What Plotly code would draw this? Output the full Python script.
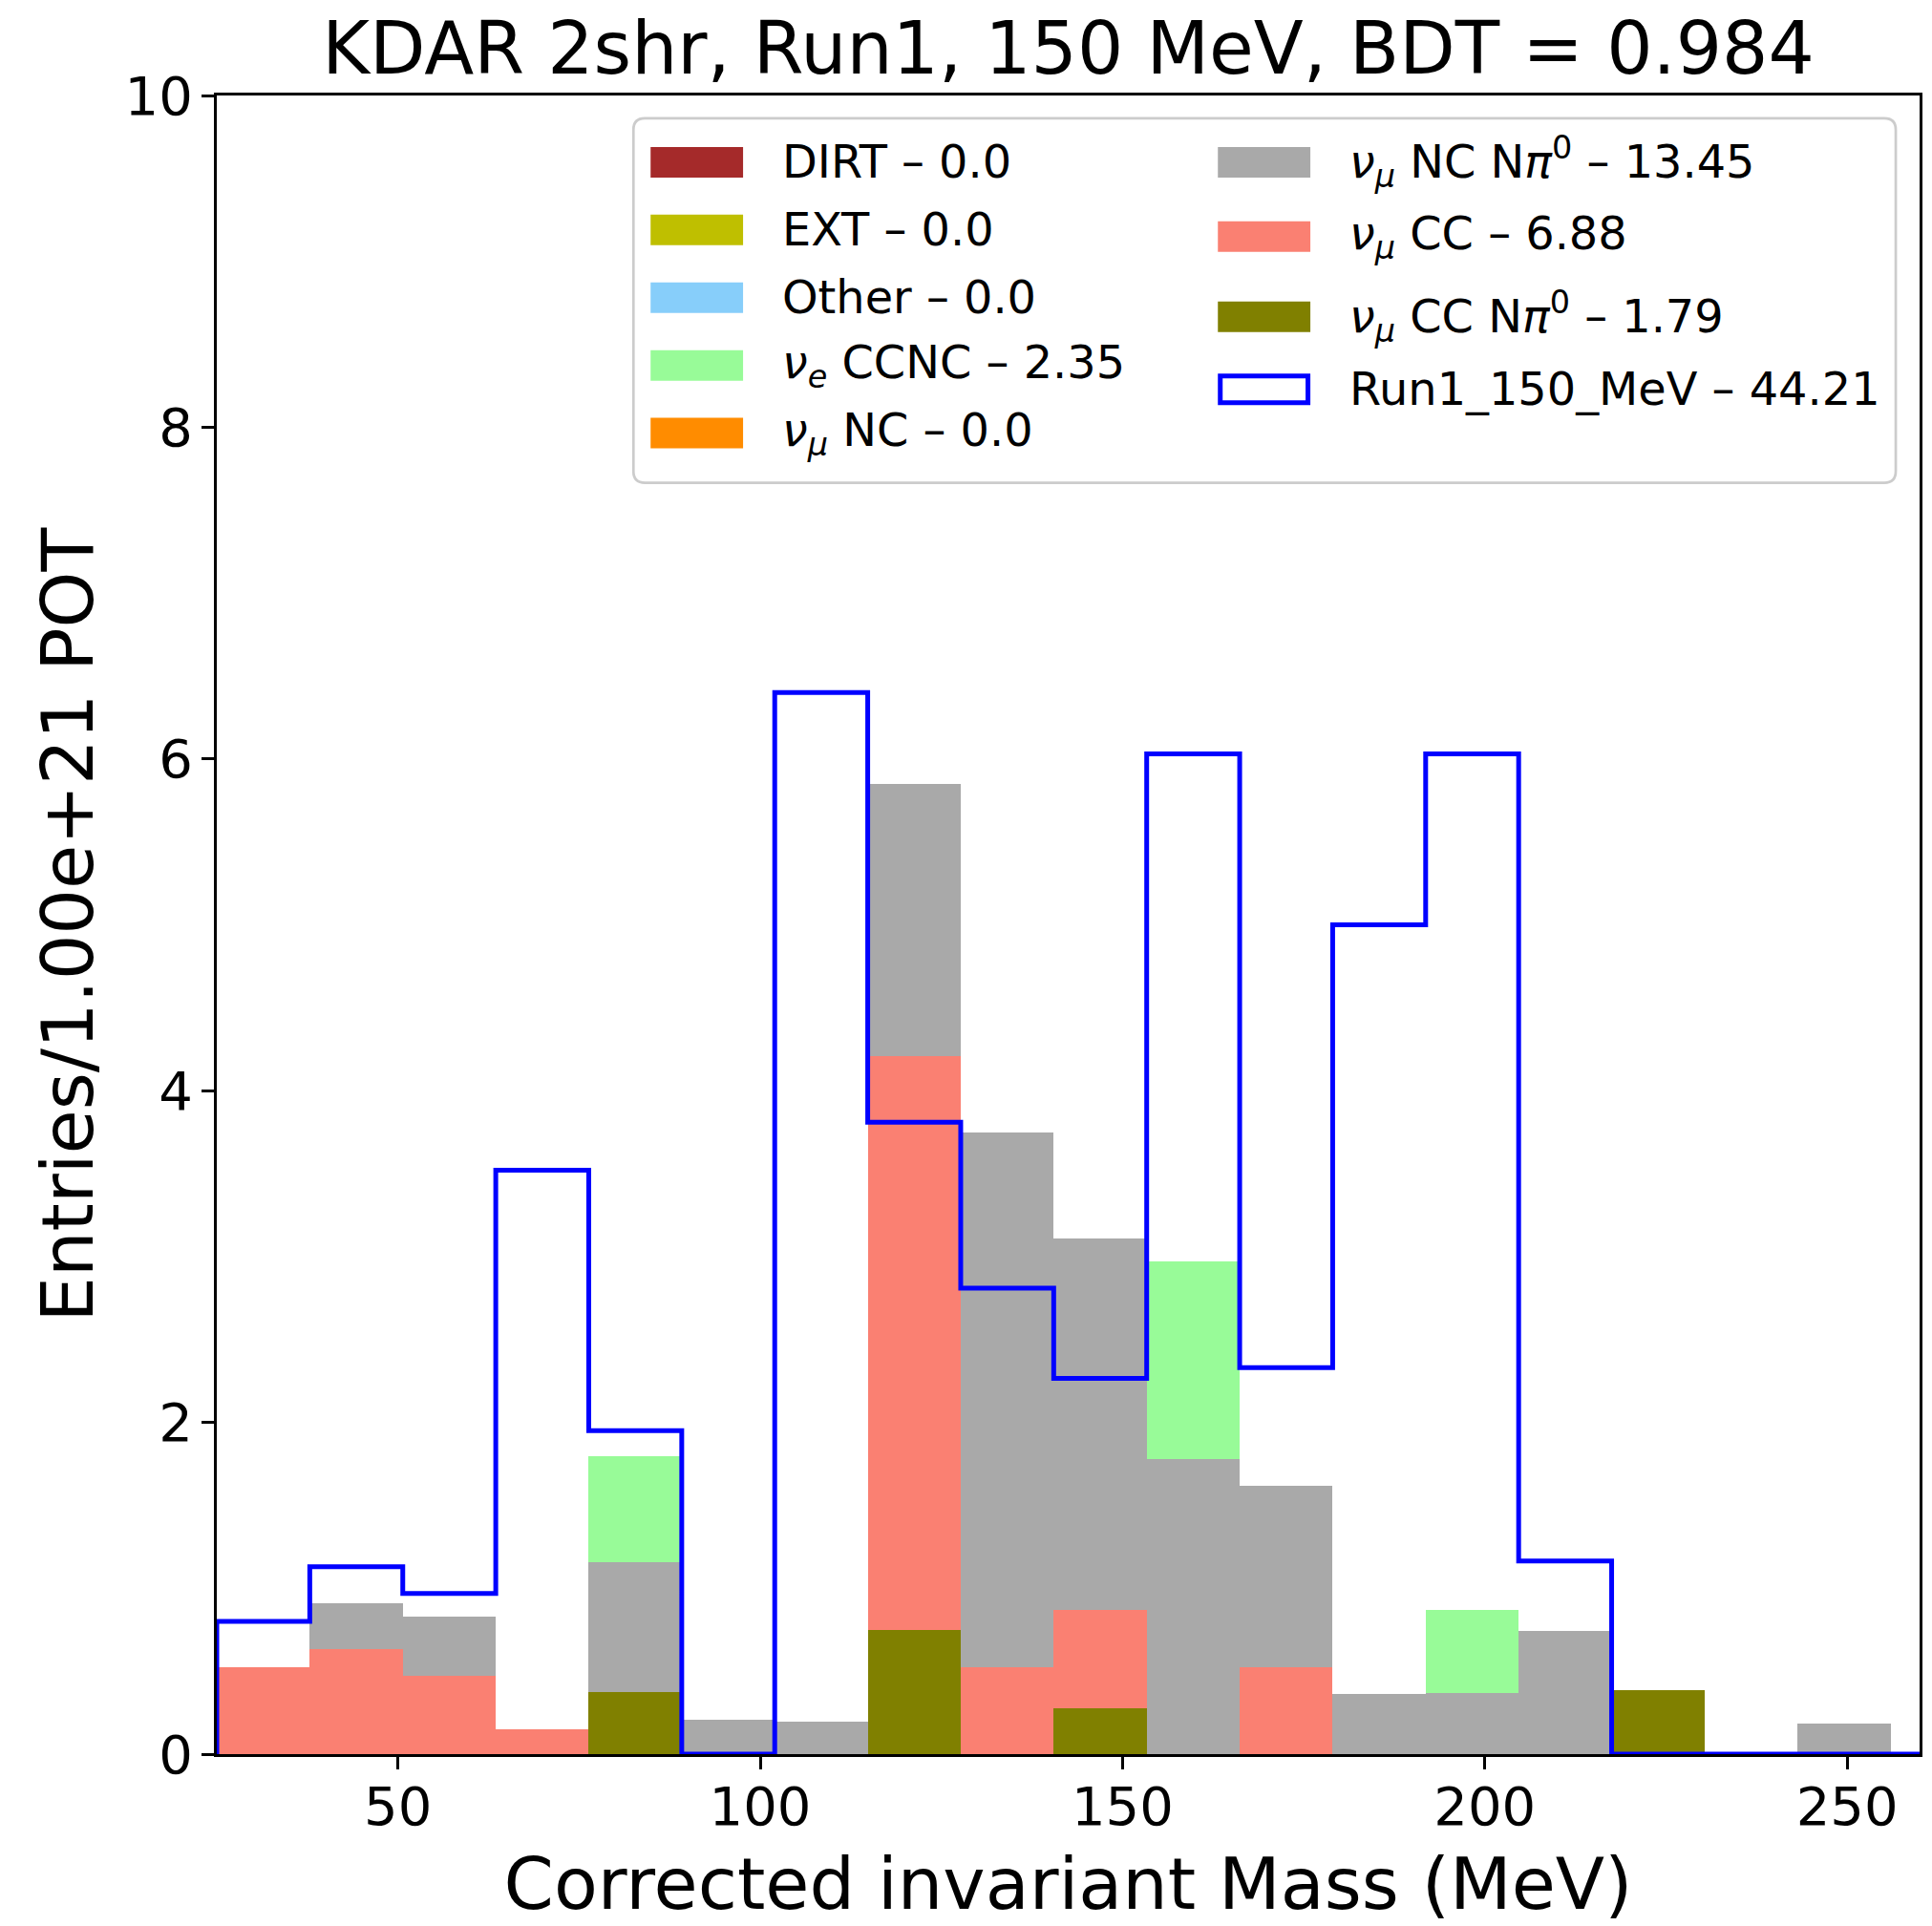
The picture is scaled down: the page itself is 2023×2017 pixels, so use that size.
import numpy as np
import plotly.graph_objects as go

# ---------------- data ----------------
bin_edges = list(np.round(np.linspace(25.0, 256.0, 19), 3))   # Corrected invariant mass bins (MeV)
x_limits = [25.0, 260.0]
y_limits = [0.0, 10.0]
x_ticks = [50, 100, 150, 200, 250]
y_ticks = [0, 2, 4, 6, 8, 10]

# stacked MC components (entries / 1e21 POT), one value per bin
dirt          = [0.0] * 18
ext           = [0.0] * 18
other         = [0.0] * 18
nue_ccnc      = [0, 0, 0, 0, 0.642, 0, 0, 0, 0, 0, 1.193, 0, 0, 0.50, 0, 0, 0, 0]
numu_nc       = [0.0] * 18
numu_nc_npi0  = [0, 0.28, 0.36, 0, 0.78, 0.21, 0.195, 1.64, 3.22, 2.24, 1.777, 1.09, 0.36, 0.37, 0.745, 0, 0, 0.185]
numu_cc       = [0.526, 0.632, 0.47, 0.147, 0, 0, 0, 3.46, 0.526, 0.589, 0, 0.526, 0, 0, 0, 0, 0, 0]
numu_cc_npi0  = [0, 0, 0, 0, 0.375, 0, 0, 0.75, 0, 0.278, 0, 0, 0, 0, 0, 0.387, 0, 0]

# data histogram
run1_data     = [0.80, 1.13, 0.968, 3.52, 1.95, 0.0, 6.40, 3.81, 2.81, 2.265, 6.03, 2.33, 5.0, 6.03, 1.165, 0.0, 0.0, 0.0]

mc_series = [dirt, ext, other, nue_ccnc, numu_nc, numu_nc_npi0, numu_cc, numu_cc_npi0]
mc_labels = ["DIRT", "EXT", "Other",
             "<i>ν</i><sub><i>e</i></sub> CCNC",
             "<i>ν</i><sub><i>μ</i></sub> NC",
             "<i>ν</i><sub><i>μ</i></sub> NC N<i>π</i><sup>0</sup>",
             "<i>ν</i><sub><i>μ</i></sub> CC",
             "<i>ν</i><sub><i>μ</i></sub> CC N<i>π</i><sup>0</sup>"]
mc_totals = [0.0, 0.0, 0.0, 2.35, 0.0, 13.45, 6.88, 1.79]
mc_colors = ["#a52a2a", "#bfbf00", "#87cefa", "#98fb98", "#ff8c00", "#a9a9a9", "#fa8072", "#808000"]
data_label = "Run1_150_MeV"
data_total = 44.21
data_color = "#0000ff"

title_text = "KDAR 2shr, Run1, 150 MeV, BDT = 0.984"
x_title = "Corrected invariant Mass (MeV)"
y_title = "Entries/1.00e+21 POT"

# ---------------- figure ----------------
W, H = 2023, 2017
ML, MR, MT, MB = 227, 10, 100, 178
FONT = "DejaVu Sans"

centers = [(a + b) / 2 for a, b in zip(bin_edges[:-1], bin_edges[1:])]
widths = [b - a for a, b in zip(bin_edges[:-1], bin_edges[1:])]

fig = go.Figure()
# stack: last legend entry at the bottom
for vals, lab, col in reversed(list(zip(mc_series, mc_labels, mc_colors))):
    fig.add_trace(go.Bar(x=centers, y=vals, width=widths, name=lab,
                         marker=dict(color=col, line=dict(width=0)),
                         showlegend=False, hoverinfo="skip"))

step_x = [bin_edges[0]] + bin_edges[:-1] + [bin_edges[-1], x_limits[1]]
step_y = [0.0] + run1_data + [0.0, 0.0]
fig.add_trace(go.Scatter(x=step_x, y=step_y, mode="lines", line_shape="hv",
                         line=dict(color=data_color, width=5), name=data_label,
                         showlegend=False, hoverinfo="skip"))

axis_common = dict(showline=True, linewidth=3, linecolor="black", mirror=True,
                   ticks="outside", ticklen=13, tickwidth=3, tickcolor="black",
                   showgrid=False, zeroline=False,
                   tickfont=dict(family=FONT, size=56, color="black"))

fig.update_layout(
    width=W, height=H,
    margin=dict(l=ML, r=MR, t=MT, b=MB, pad=0),
    plot_bgcolor="white", paper_bgcolor="white",
    barmode="stack", bargap=0,
    font=dict(family=FONT, color="black"),
    title=dict(text=title_text, x=0.5, xref="paper", xanchor="center",
               y=1 - 50 / H, yref="container", yanchor="middle",
               font=dict(family=FONT, size=76, color="black")),
    xaxis=dict(range=x_limits, tickvals=x_ticks, ticklabelstandoff=-9,
               title=dict(text=x_title, standoff=30, font=dict(family=FONT, size=75, color="black")),
               **axis_common),
    yaxis=dict(range=y_limits, tickvals=y_ticks, ticklabelstandoff=-2,
               title=dict(text=y_title, standoff=9, font=dict(family=FONT, size=75, color="black")),
               **axis_common),
)

# ---------------- legend (matplotlib-style, two columns in a rounded box) ----------------
PW, PH = W - ML - MR, H - MT - MB
def px(xp):
    return (xp - ML) / PW
def py(yp):
    return (H - MB - yp) / PH

box = (664, 124, 1988, 506)
r = 12
x0, y0, x1, y1 = box
path = (f"M {px(x0 + r)},{py(y0)} L {px(x1 - r)},{py(y0)} Q {px(x1)},{py(y0)} {px(x1)},{py(y0 + r)} "
        f"L {px(x1)},{py(y1 - r)} Q {px(x1)},{py(y1)} {px(x1 - r)},{py(y1)} "
        f"L {px(x0 + r)},{py(y1)} Q {px(x0)},{py(y1)} {px(x0)},{py(y1 - r)} "
        f"L {px(x0)},{py(y0 + r)} Q {px(x0)},{py(y0)} {px(x0 + r)},{py(y0)} Z")
fig.add_shape(type="path", path=path, xref="paper", yref="paper",
              line=dict(color="#cccccc", width=2.7), fillcolor="rgba(255,255,255,0.8)", layer="above")

leg_font = dict(family=FONT, size=47.8, color="black")
col1_rows = [170, 241, 312, 383, 454]
col2_rows = [170, 248, 332, 408]
entries = []
for i in range(5):
    entries.append((682, 818, col1_rows[i], mc_labels[i], mc_totals[i], mc_colors[i], False))
for j, i in enumerate(range(5, 8)):
    entries.append((1277, 1413, col2_rows[j], mc_labels[i], mc_totals[i], mc_colors[i], False))
entries.append((1277, 1413, col2_rows[3], data_label, data_total, data_color, True))

for patch_x, text_x, yc, lab, tot, col, outline in entries:
    if outline:
        fig.add_shape(type="rect", xref="paper", yref="paper",
                      x0=px(patch_x + 2.5), x1=px(patch_x + 94.5), y0=py(yc - 14), y1=py(yc + 14),
                      line=dict(color=col, width=5), fillcolor="white", layer="above")
    else:
        fig.add_shape(type="rect", xref="paper", yref="paper",
                      x0=px(patch_x), x1=px(patch_x + 97), y0=py(yc - 16), y1=py(yc + 16),
                      line=dict(width=0), fillcolor=col, layer="above")
    fig.add_annotation(x=px(text_x), y=py(yc), xref="paper", yref="paper",
                       xanchor="left", yanchor="middle", showarrow=False,
                       text=f"{lab} – {tot}", font=leg_font)

fig.write_html("out.html")
